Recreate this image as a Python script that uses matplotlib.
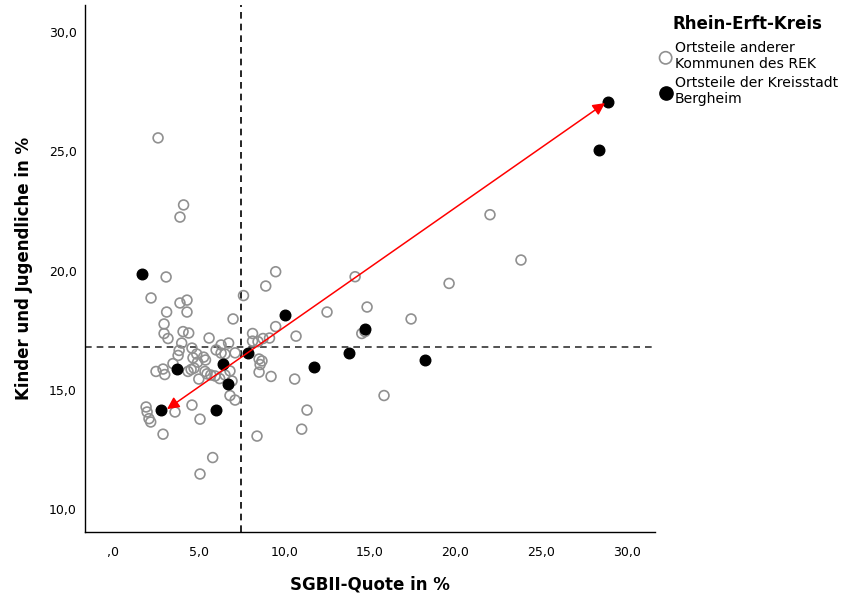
import matplotlib
matplotlib.use("Agg")
import matplotlib.pyplot as plt
from matplotlib.ticker import FuncFormatter

# Ortsteile anderer Kommunen des REK (SGBII-Quote, Kinder/Jugendliche)
rek_x = [2.63, 4.12, 3.91, 3.10, 2.22, 3.91, 4.32, 3.13, 4.32, 2.98,
         2.98, 3.21, 4.09, 4.42, 5.61, 4.01, 4.61, 3.86, 3.80, 4.67,
         6.02, 6.31, 6.75, 6.54, 5.29, 5.40, 4.94, 3.50, 4.38, 4.56,
         2.92, 2.51, 3.02, 4.73, 5.01, 5.37, 5.49, 5.71, 5.96, 6.23,
         6.54, 6.83, 6.95, 6.83, 7.13, 7.01, 7.62, 8.92, 9.50, 8.15,
         8.15, 8.47, 8.76, 9.14, 9.50, 10.69, 8.53, 8.70, 8.59, 8.53,
         9.23, 10.61, 1.93, 1.99, 2.10, 2.20, 3.62, 4.61, 5.08, 2.92,
         5.82, 5.08, 8.41, 11.02, 11.33, 15.83, 12.50, 14.14, 14.84, 14.53,
         14.72, 17.41, 19.63, 22.02, 23.83, 7.13, 6.31, 4.89]
rek_y = [25.56, 22.75, 22.24, 19.73, 18.85, 18.64, 18.76, 18.26, 18.26, 17.76,
         17.36, 17.15, 17.44, 17.38, 17.17, 16.96, 16.75, 16.65, 16.44, 16.34,
         16.67, 16.88, 16.96, 16.50, 16.37, 16.25, 16.16, 16.10, 15.77, 15.85,
         15.87, 15.77, 15.64, 15.91, 15.45, 15.77, 15.67, 15.62, 15.58, 15.47,
         15.62, 15.79, 15.37, 14.76, 14.57, 17.97, 18.95, 19.35, 19.95, 17.36,
         17.04, 17.02, 17.15, 17.17, 17.65, 17.25, 16.29, 16.21, 16.06, 15.74,
         15.56, 15.45, 14.28, 14.07, 13.79, 13.65, 14.07, 14.36, 13.77, 13.14,
         12.16, 11.47, 13.06, 13.35, 14.15, 14.76, 18.26, 19.74, 18.47, 17.36,
         17.44, 17.97, 19.46, 22.34, 20.44, 16.55, 16.54, 16.50]

# Ortsteile der Kreisstadt Bergheim
bhm_x = [28.91, 28.39, 1.71, 10.05, 14.72, 7.89, 13.79, 6.43, 3.74, 11.74,
         18.22, 6.72, 2.80, 6.02]
bhm_y = [27.07, 25.05, 19.85, 18.13, 17.55, 16.54, 16.56, 16.08, 15.87, 15.95,
         16.25, 15.26, 14.15, 14.15]

mean_x = 7.5
mean_y = 16.8
arrow_start = (3.15, 14.19)
arrow_end = (28.74, 27.02)

fig = plt.figure(figsize=(8.54, 5.97), dpi=100)
ax = fig.add_axes([0.0995, 0.1089, 0.6675, 0.8827])

ax.scatter(rek_x, rek_y, s=50, facecolors="none", edgecolors="#909090",
           linewidths=1.2, zorder=3, label="Ortsteile anderer\nKommunen des REK")
ax.scatter(bhm_x, bhm_y, s=58, color="black", zorder=4,
           label="Ortsteile der Kreisstadt\nBergheim")

ax.axvline(mean_x, color="black", lw=1.2, dashes=(4, 3), zorder=2)
ax.axhline(mean_y, color="#333333", lw=1.2, dashes=(4, 3), zorder=2)

ax.annotate("", xy=arrow_end, xytext=arrow_start,
            arrowprops=dict(arrowstyle="<|-|>", color="red", lw=1.1,
                            mutation_scale=18, shrinkA=0, shrinkB=0),
            zorder=5)

ax.set_xlim(-1.64, 31.66)
ax.set_ylim(9.04, 31.13)
ax.set_xticks([0, 5, 10, 15, 20, 25, 30])
ax.set_yticks([10, 15, 20, 25, 30])

def de_fmt(v, pos):
    s = f"{v:.1f}".replace(".", ",")
    return s[1:] if s.startswith("0") else s

ax.xaxis.set_major_formatter(FuncFormatter(de_fmt))
ax.yaxis.set_major_formatter(FuncFormatter(de_fmt))
ax.tick_params(length=0, labelsize=9)
ax.tick_params(axis="x", pad=10)
ax.tick_params(axis="y", pad=6)

for side in ["top", "right"]:
    ax.spines[side].set_visible(False)
for side in ["left", "bottom"]:
    ax.spines[side].set_linewidth(1.0)

ax.set_xlabel("SGBII-Quote in %", fontsize=12, fontweight="bold", labelpad=12)
ax.set_ylabel("Kinder und Jugendliche in %", fontsize=12, fontweight="bold", labelpad=11)

leg = fig.legend(loc="upper left", bbox_to_anchor=(0.763, 0.985), frameon=False,
                 title="Rhein-Erft-Kreis", fontsize=10.1, markerscale=1.25,
                 handletextpad=0.05, labelspacing=0.35, handlelength=1.2,
                 borderaxespad=0)
leg.get_title().set_fontweight("bold")
leg.get_title().set_fontsize(12)
leg._legend_box.sep = 6

fig.savefig("out.png", dpi=100)
